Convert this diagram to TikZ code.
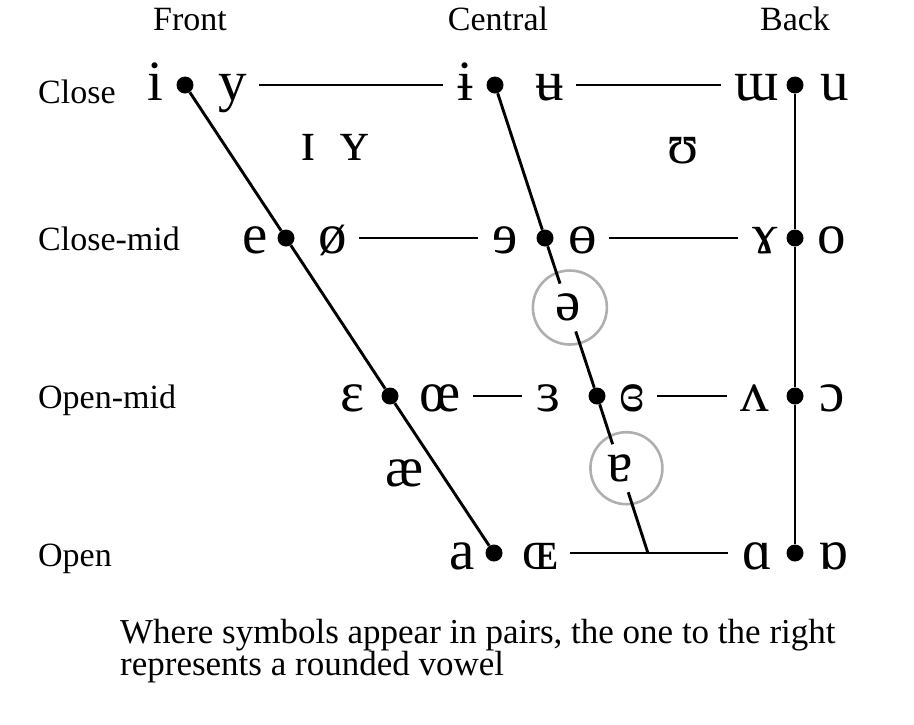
\documentclass[tikz,border=0pt]{standalone}
\usepackage{fontspec}
\setmainfont{Liberation Serif}
\newfontfamily\ipafont{Liberation Serif}
\usetikzlibrary{calc}
\definecolor{ringgray}{RGB}{175,175,175}
\newcommand{\ipasize}{\ipafont\fontsize{57}{57}\selectfont}
\newcommand{\lblsize}{\fontsize{34}{34}\selectfont}
\newcommand{\notesize}{\fontsize{35}{32}\selectfont\lineskiplimit=-40pt\relax}

\begin{document}
\begin{tikzpicture}[x=1pt, y=-1pt,
    dot/.style={circle, fill=black, inner sep=0pt, minimum size=17pt},
    vowel/.style={anchor=base, inner sep=0pt, font=\ipasize},
    edge/.style={line width=2.9pt},
    rule/.style={line width=2.9pt, shorten <=12pt, shorten >=14pt},
    tier/.style={anchor=base west, inner sep=0pt, font=\lblsize},
    column/.style={anchor=base, inner sep=0pt, font=\lblsize},
    circled/.style={circle, inner sep=0pt, minimum size=50pt, font=\ipasize},
    ring/.style={draw=ringgray, line width=2.6pt}]

    \useasboundingbox (0,0) rectangle (914,724);

    %% --- Column and row headings ---
    \node[column] (front)   at (190,30) {Front};
    \node[column] (central) at (498,30) {Central};
    \node[column] (back)    at (795,30) {Back};

    \node[tier] (close)    at (38,103) {Close};
    \node[tier] (closemid) at (38,250) {Close-mid};
    \node[tier] (openmid)  at (38,408) {Open-mid};
    \node[tier] (open)     at (38,566) {Open};

    %% --- Dots: front, central, back ---
    \node[dot] (C1)  at (185,85)  {};
    \node[dot] (C2)  at (495,85)  {};
    \node[dot] (C3)  at (795,85)  {};
    \node[dot] (CM1) at (286,238) {};
    \node[dot] (CM2) at (545,238) {};
    \node[dot] (CM3) at (795,238) {};
    \node[dot] (OM1) at (390,396) {};
    \node[dot] (OM2) at (597,396) {};
    \node[dot] (OM3) at (795,396) {};
    \node[dot] (O1)  at (494,553) {};
    \node[dot] (O3)  at (795,553) {};
    \coordinate (O2) at (intersection of C2--CM2 and O1--O3);

    %% --- Vowel symbols ---
    %% close
    \node[vowel] (vi)    at (155,100) {i};
    \node[vowel] (vy)    at (233,100) {y};
    \node[vowel] (vibar) at (465,100) {ɨ};
    \node[vowel] (vubar) at (550,100) {ʉ};
    \node[vowel] (vmu)   at (757,100) {ɯ};
    \node[vowel] (vu)    at (835,100) {u};
    %% near-close
    \node[vowel] (vsmi)  at (308,160) {ɪ};
    \node[vowel] (vsmy)  at (355,160) {ʏ};
    \node[vowel] (vups)  at (683,163) {ʊ};
    %% close-mid
    \node[vowel] (ve)    at (255,253) {e};
    \node[vowel] (vslo)  at (333,253) {ø};
    \node[vowel] (vreve) at (505,253) {ɘ};
    \node[vowel] (vbaro) at (583,253) {ɵ};
    \node[vowel] (vgam)  at (765,253) {ɤ};
    \node[vowel] (vo)    at (832,253) {o};
    %% open-mid
    \node[vowel] (veps)  at (352,411) {ɛ};
    \node[vowel] (voe)   at (440,411) {œ};
    \node[vowel] (vrev)  at (548,411) {ɜ};
    \node[vowel] (vcrev) at (632,411) {ɞ};
    \node[vowel] (vwed)  at (755,411) {ʌ};
    \node[vowel] (vopo)  at (832,411) {ɔ};
    %% near-open and open
    \node[vowel] (vae)   at (405,486) {æ};
    \node[vowel] (va)    at (462,569) {a};
    \node[vowel] (vsoe)  at (540,569) {ɶ};
    \node[vowel] (valp)  at (757,569) {ɑ};
    \node[vowel] (vtalp) at (833,569) {ɒ};

    %% --- Circled central vowels ---
    \node[circled] (schwa) at ($(CM2)!0.44!(OM2)$) {ə};
    \node[circled] (turna) at ($(OM2)!0.46!(O2)$) {ɐ};
    \draw[ring] ($(schwa)+(2,0)$) circle (37);
    \draw[ring] ($(turna)+(6,0)$) circle (36);

    %% --- Slanted and vertical lines ---
    \draw[edge] (C1) -- (CM1) -- (OM1) -- (O1);
    \draw[edge] (C2) -- (CM2) -- (schwa);
    \draw[edge] (schwa) -- (OM2) -- (turna);
    \draw[edge] (turna) -- (O2);
    \draw[edge] (C3) -- (CM3) -- (OM3) -- (O3);

    %% --- Horizontal lines ---
    \draw[rule] (vy.east |- C1) -- (vibar.west |- C1);
    \draw[rule] (vubar.east |- C2) -- (vmu.west |- C2);
    \draw[rule] (vslo.east |- CM1) -- (vreve.west |- CM1);
    \draw[rule] (vbaro.east |- CM2) -- (vgam.west |- CM2);
    \draw[rule] (voe.east |- OM1) -- (vrev.west |- OM1);
    \draw[rule] (vcrev.east |- OM2) -- (vwed.west |- OM2);
    \draw[rule] (vsoe.east |- O1) -- (valp.west |- O1);

    %% --- Note ---
    \node[anchor=base west, align=left, inner sep=0pt, font=\notesize] (note)
        at (120,675) {Where symbols appear in pairs, the one to the right\\represents a rounded vowel};

\end{tikzpicture}
\end{document}
